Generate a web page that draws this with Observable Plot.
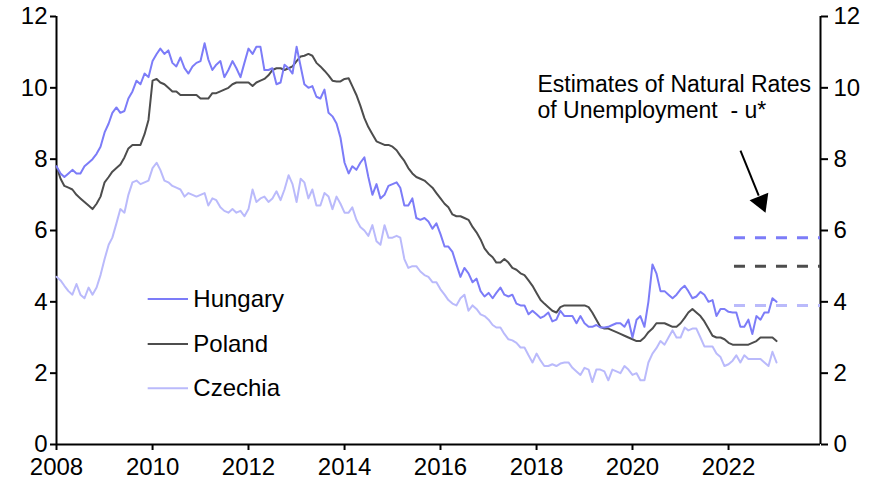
<!DOCTYPE html>
<html><head><meta charset="utf-8">
<script src="https://cdn.jsdelivr.net/npm/d3@7"></script>
<script src="https://cdn.jsdelivr.net/npm/@observablehq/plot@0.6"></script>
<style>body{margin:0;background:#fff}</style>
</head><body><div id="chart"></div>
<script>
const countries = ["Hungary", "Poland", "Czechia"];
// monthly unemployment rate, Jan 2008 - Jan 2023
const hungary = [
7.8,7.6,7.5,7.6,7.7,7.6,7.6,7.8,7.9,8.0,8.15,8.35,
8.75,9.0,9.3,9.45,9.3,9.35,9.7,9.9,10.2,10.1,10.4,10.3,
10.75,10.95,11.1,10.95,11.05,10.7,10.6,10.85,10.55,10.4,10.6,10.7,
10.75,11.25,10.8,10.5,10.65,10.75,10.3,10.5,10.75,10.55,10.3,10.7,
11.1,10.95,11.15,11.15,10.5,10.5,10.55,10.1,10.15,10.65,10.55,10.4,
11.15,10.6,10.1,10.0,10.05,9.75,9.7,9.95,9.3,9.2,9.0,8.6,
7.9,7.6,7.8,7.7,7.9,8.05,7.5,7.0,7.3,6.9,7.0,7.25,
7.3,7.35,7.2,6.7,6.7,6.9,6.35,6.3,6.35,6.25,6.05,6.2,
5.9,5.55,5.55,5.4,5.05,4.7,4.95,4.8,4.55,4.65,4.3,4.15,
4.25,4.1,4.25,4.4,4.2,4.15,4.2,3.95,3.9,3.9,3.65,3.75,
3.65,3.55,3.6,3.7,3.45,3.5,3.75,3.6,3.6,3.6,3.4,3.6,
3.4,3.3,3.3,3.35,3.28,3.28,3.3,3.35,3.4,3.4,3.3,3.5,
3.0,3.5,3.6,3.3,4.0,5.05,4.8,4.3,4.3,4.2,4.1,4.2,
4.35,4.45,4.3,4.1,4.15,4.28,4.2,4.0,4.05,3.6,3.8,3.8,
3.72,3.7,3.7,3.3,3.3,3.5,3.1,3.6,3.5,3.7,3.7,4.1,
4.0];
const poland = [
7.8,7.45,7.25,7.2,7.15,7.0,6.9,6.8,6.7,6.6,6.75,6.95,
7.35,7.5,7.65,7.75,7.85,8.05,8.3,8.4,8.4,8.4,8.7,9.1,
10.2,10.25,10.15,10.1,10.0,9.9,9.9,9.8,9.8,9.8,9.8,9.8,
9.7,9.7,9.7,9.85,9.85,9.9,9.95,10.0,10.1,10.15,10.15,10.15,
10.15,10.05,10.15,10.2,10.25,10.35,10.5,10.55,10.55,10.5,10.55,10.6,
10.75,10.88,10.9,10.95,10.9,10.7,10.6,10.48,10.35,10.2,10.18,10.18,
10.25,10.27,10.05,9.8,9.5,9.15,8.9,8.7,8.5,8.45,8.4,8.4,
8.35,8.25,8.1,7.95,7.75,7.6,7.5,7.45,7.4,7.3,7.2,7.05,
6.9,6.75,6.65,6.45,6.4,6.4,6.35,6.3,6.1,5.95,5.75,5.5,
5.35,5.25,5.1,5.1,5.2,5.1,4.95,4.9,4.8,4.75,4.6,4.45,
4.25,4.05,3.95,3.85,3.75,3.7,3.85,3.9,3.9,3.9,3.9,3.9,
3.9,3.85,3.7,3.5,3.3,3.25,3.25,3.2,3.15,3.1,3.05,3.0,
2.95,2.9,2.9,3.0,3.15,3.25,3.4,3.4,3.4,3.35,3.3,3.3,
3.4,3.55,3.7,3.8,3.7,3.6,3.45,3.25,3.05,3.0,3.0,2.95,
2.85,2.8,2.8,2.8,2.8,2.8,2.85,2.9,3.0,3.0,3.0,3.0,
2.9];
const czechia = [
4.7,4.6,4.45,4.3,4.2,4.5,4.2,4.1,4.4,4.2,4.4,4.75,
5.2,5.6,5.8,6.2,6.6,6.5,7.0,7.35,7.4,7.3,7.35,7.4,
7.75,7.9,7.7,7.4,7.35,7.25,7.2,7.15,6.95,7.05,7.0,6.95,
7.0,7.05,6.7,6.9,6.85,6.65,6.55,6.5,6.6,6.5,6.55,6.4,
6.6,7.15,6.8,6.9,6.95,6.8,6.9,7.1,6.85,7.15,7.55,7.3,
6.8,7.45,7.35,6.9,7.15,6.7,6.7,7.05,6.95,6.6,6.95,6.75,
6.5,6.5,6.65,6.3,6.1,6.0,5.85,6.15,5.7,5.6,6.15,5.8,
5.8,5.85,5.8,5.2,4.95,5.0,5.0,4.85,4.75,4.7,4.55,4.55,
4.35,4.2,4.05,3.95,3.9,4.1,4.2,3.75,3.9,3.8,3.65,3.6,
3.5,3.35,3.28,3.28,3.1,2.95,2.92,2.85,2.72,2.72,2.5,2.3,
2.55,2.35,2.2,2.2,2.25,2.2,2.27,2.3,2.3,2.15,2.05,1.95,
2.15,2.1,1.75,2.1,2.1,2.05,1.8,2.1,2.05,2.0,2.2,2.1,
1.95,2.0,1.8,1.8,2.3,2.55,2.7,2.9,2.8,3.0,3.2,3.0,
3.0,3.28,3.2,3.25,3.25,3.0,2.75,2.75,2.75,2.55,2.45,2.2,
2.25,2.35,2.5,2.3,2.5,2.4,2.4,2.4,2.4,2.3,2.2,2.6,
2.3];
const naturalRates = [5.8, 5.0, 3.9];
const yTicks = [0, 2, 4, 6, 8, 10, 12];
const annotation = ["Estimates of Natural Rates", "of Unemployment  - u*"];

const colors = ["#7c7cf8", "#4d4d4d", "#babafb"];
const fromYear = (y) => new Date(Date.UTC(2008, 0, 1) + (y - 2008) * 365.25 * 864e5);
const xStart = new Date(Date.UTC(2008, 0, 1));
const xEnd = fromYear(2023.917);
const dates = d3.utcMonth.range(xStart, new Date(Date.UTC(2023, 1, 1)));

const rows = [];
[hungary, poland, czechia].forEach((s, k) =>
  s.forEach((v, i) => rows.push({date: dates[i], value: v, country: countries[k]})));
const drawOrder = ["Czechia", "Poland", "Hungary"];
rows.sort((a, b) => drawOrder.indexOf(a.country) - drawOrder.indexOf(b.country));

const rates = countries.map((c, k) => ({country: c, rate: naturalRates[k]}));
const legendRows = countries.map((c, k) => ({country: c, y: [4.08, 2.82, 1.58][k]}));
const annoRows = annotation.map((t, k) => ({text: t, y: [10.1, 9.36][k]}));

const chart = Plot.plot({
  width: 875,
  height: 487,
  marginLeft: 56,
  marginRight: 55,
  marginTop: 16,
  marginBottom: 43,
  style: {fontFamily: "'Liberation Sans', Arial, sans-serif", fontSize: "24px", color: "#000", background: "#fff"},
  x: {type: "utc", domain: [xStart, xEnd], axis: null},
  y: {domain: [0, 12], axis: null},
  color: {domain: countries, range: colors},
  marks: [
    Plot.axisY({anchor: "left", ticks: yTicks, tickSize: 6, tickPadding: 3, strokeWidth: 2}),
    Plot.axisY({anchor: "right", ticks: yTicks, tickSize: 7, tickPadding: 6, strokeWidth: 2}),
    Plot.axisX({anchor: "bottom", ticks: d3.utcYear.every(2), tickFormat: "%Y", tickSize: 6, tickPadding: 7, strokeWidth: 2}),
    Plot.ruleY([0], {stroke: "#000", strokeWidth: 2}),
    Plot.ruleX([xStart, xEnd], {stroke: "#000", strokeWidth: 2}),
    Plot.ruleY(rates, {y: "rate", x1: fromYear(2022.125), x2: xEnd, stroke: "country", strokeWidth: 3, strokeDasharray: "11,10"}),
    Plot.line(rows, {x: "date", y: "value", z: "country", stroke: "country", strokeWidth: 2}),
    Plot.ruleY(legendRows, {y: "y", x1: fromYear(2009.91), x2: fromYear(2010.75), stroke: "country", strokeWidth: 2}),
    Plot.text(legendRows, {y: "y", x: fromYear(2010.85), text: "country", textAnchor: "start", fill: "#000"}),
    Plot.text(annoRows, {y: "y", x: fromYear(2018.02), text: "text", textAnchor: "start", fill: "#000", fontSize: 23}),
    Plot.link([0], {x1: fromYear(2022.25), y1: 8.24, x2: fromYear(2022.63), y2: 6.98, stroke: "#000", strokeWidth: 2}),
    Plot.dot([0], {x: fromYear(2022.68), y: 6.8, symbol: "triangle", r: 7.5, rotate: 158, fill: "#000", stroke: "none"})
  ]
});
document.getElementById("chart").appendChild(chart);
</script>
</body></html>
